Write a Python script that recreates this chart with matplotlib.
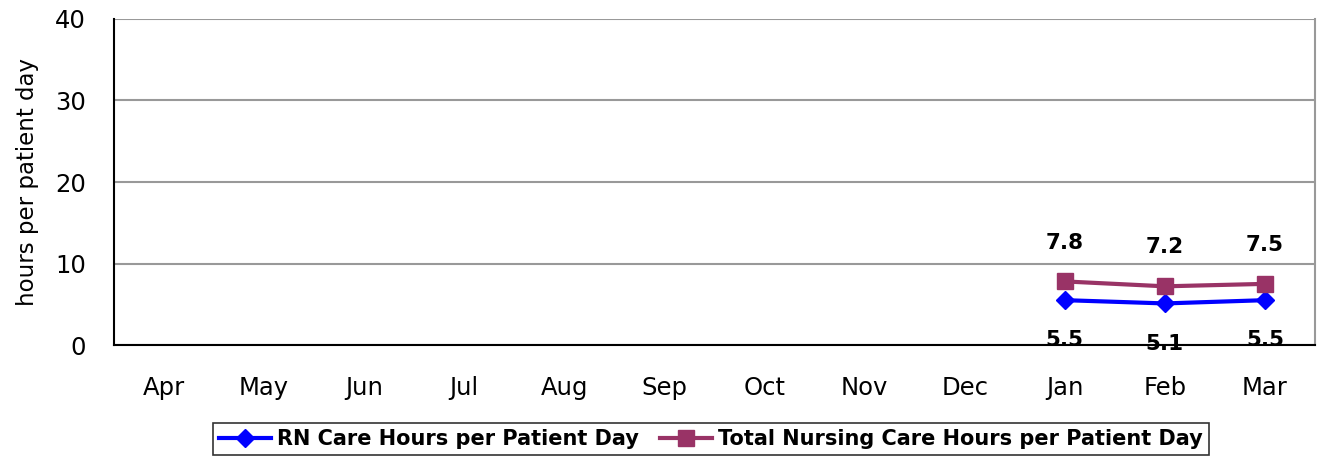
import numpy as np
import matplotlib.pyplot as plt

months = ['Apr', 'May', 'Jun', 'Jul', 'Aug', 'Sep', 'Oct', 'Nov', 'Dec', 'Jan', 'Feb', 'Mar']
rn_hours = [np.nan] * 9 + [5.5, 5.1, 5.5]
total_hours = [np.nan] * 9 + [7.8, 7.2, 7.5]

rn_color = '#0000FF'
total_color = '#993366'

fig = plt.figure(figsize=(13.18, 4.61), dpi=100)
ax = fig.add_axes([114 / 1318, 1 - 345 / 461, 1201 / 1318, 326 / 461])

x = np.arange(len(months))
ax.plot(x, rn_hours, color=rn_color, lw=3, marker='D', ms=9,
        label='RN Care Hours per Patient Day', zorder=3)
ax.plot(x, total_hours, color=total_color, lw=3, marker='s', ms=11,
        label='Total Nursing Care Hours per Patient Day', zorder=3)

# data labels
for xi, v in zip(x, total_hours):
    if not np.isnan(v):
        ax.annotate(f'{v:.1f}', (xi, v), xytext=(0, 28), textcoords='offset points',
                    ha='center', va='center', fontsize=15.5, fontweight='bold')
for xi, v in zip(x, rn_hours):
    if not np.isnan(v):
        ax.annotate(f'{v:.1f}', (xi, v), xytext=(0, -29), textcoords='offset points',
                    ha='center', va='center', fontsize=15.5, fontweight='bold',
                    annotation_clip=False, zorder=5)

ax.set_xlim(-0.5, 11.5)
ax.set_ylim(0, 40)
ax.set_yticks([0, 10, 20, 30, 40])
ax.set_xticks(x)
ax.set_xticklabels(months)
ax.tick_params(axis='both', length=0, labelsize=17.5)
ax.tick_params(axis='x', pad=22)
ax.tick_params(axis='y', pad=20)
ax.yaxis.grid(True, color='#999999', lw=1.5)
ax.set_axisbelow(True)
ax.set_ylabel('hours per patient day', fontsize=16.5, labelpad=12)

for s in ['left', 'bottom']:
    ax.spines[s].set_color('black')
    ax.spines[s].set_linewidth(1.5)
ax.spines['right'].set_color('#999999')
ax.spines['right'].set_linewidth(1.5)
ax.spines['top'].set_visible(False)

leg = ax.legend(loc='center', bbox_to_anchor=(597 / 1201, -94 / 326), ncol=2,
                frameon=True, fancybox=False, edgecolor='black',
                prop={'weight': 'bold', 'size': 15}, handlelength=2.5,
                columnspacing=1.0, handletextpad=0.3, borderpad=0.3)
leg.get_frame().set_linewidth(1.2)

fig.savefig('out.png', dpi=100)
